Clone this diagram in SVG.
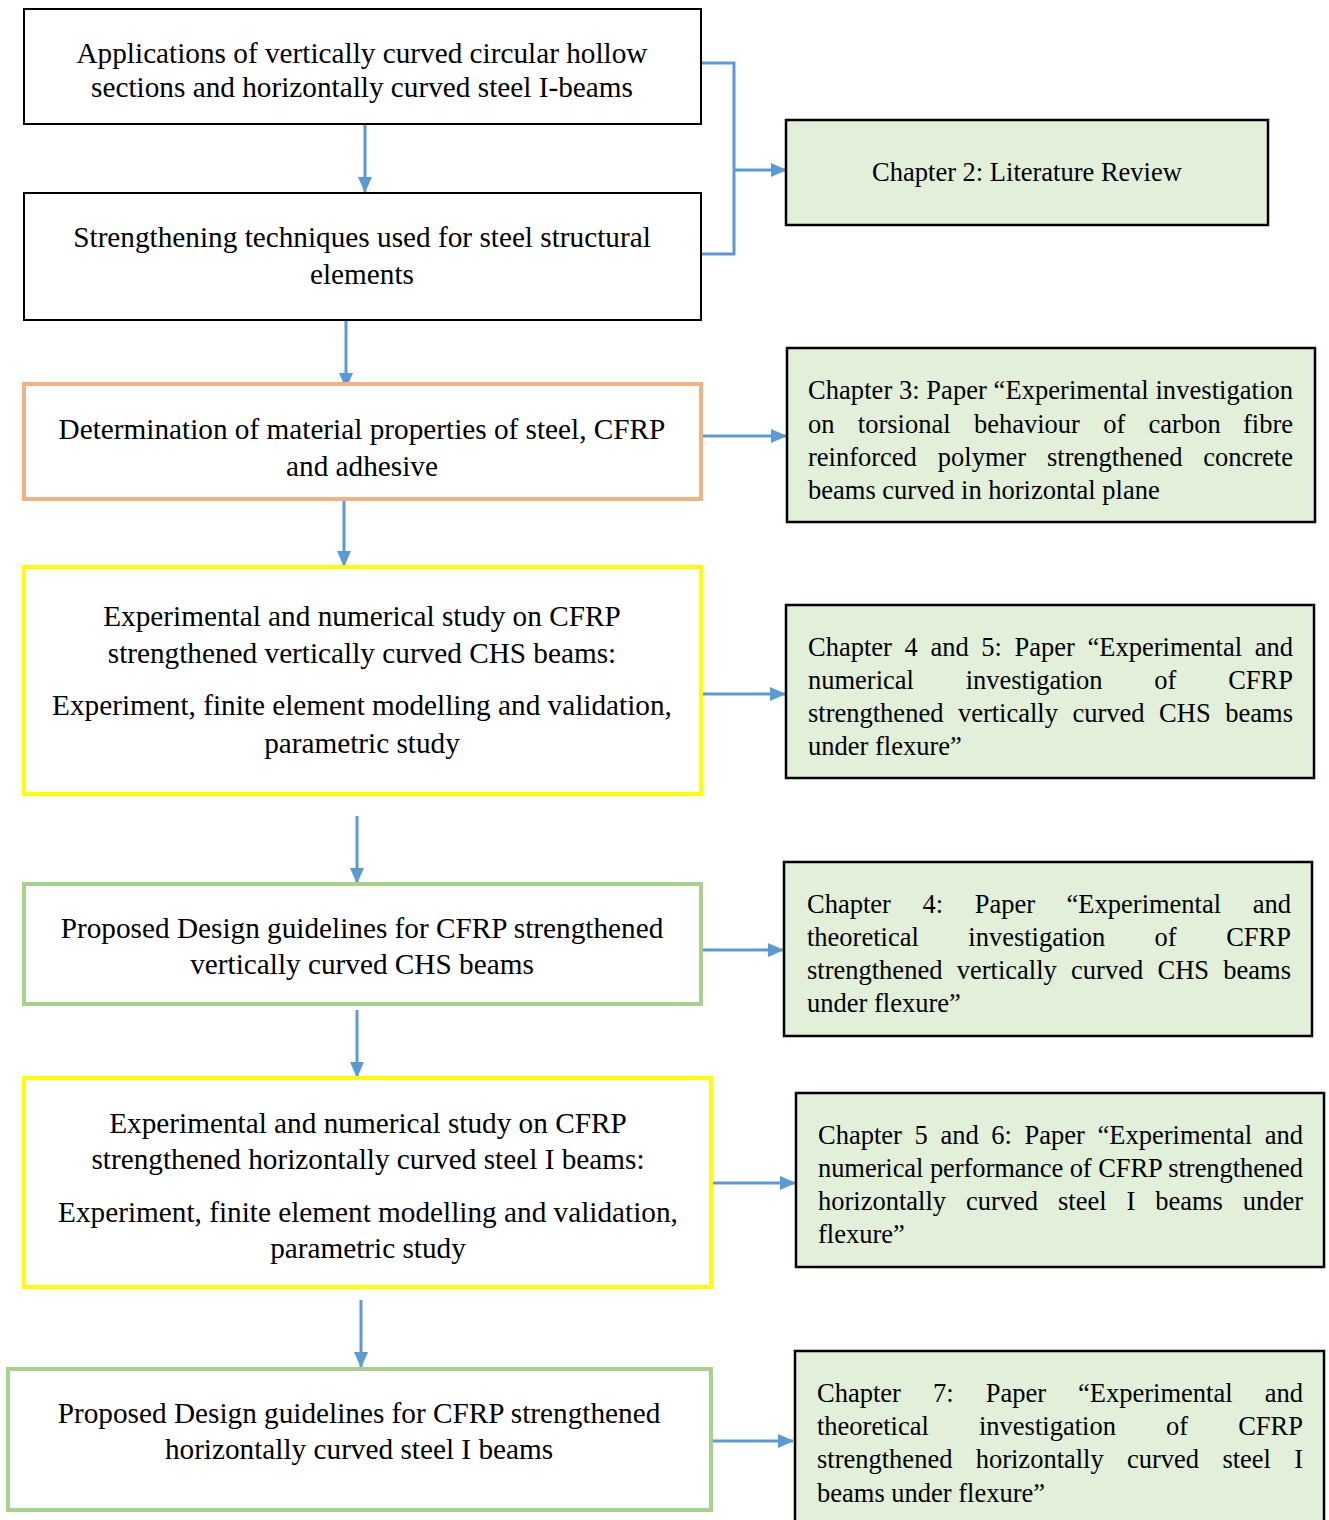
<svg xmlns="http://www.w3.org/2000/svg" width="1329" height="1520" viewBox="0 0 1329 1520">
<style>
text{font-family:"Liberation Serif","Times New Roman",serif;fill:#000}
.m{font-size:29.25px;text-anchor:middle}
.c{font-size:26.5px}
.e{text-anchor:end}
.bk{fill:#fff;stroke:#000;stroke-width:2}
.or{fill:#fff;stroke:#f4b183;stroke-width:4}
.ye{fill:#fff;stroke:#ffff00;stroke-width:4}
.gr{fill:#fff;stroke:#a9d18e;stroke-width:4}
.ch{fill:#e2efd9;stroke:#000;stroke-width:2.5}
.cn{fill:none;stroke:#5b9bd5;stroke-width:3}
</style>
<defs>
<marker id="ah" markerUnits="userSpaceOnUse" markerWidth="16" markerHeight="14" refX="15" refY="7" orient="auto">
<path d="M0,0 L16,7 L0,14 Z" fill="#5b9bd5"/>
</marker>
</defs>
<rect width="1329" height="1520" fill="#fff"/>
<g id="connectors">
<line class="cn" x1="365" y1="124" x2="365" y2="192" marker-end="url(#ah)"/>
<polyline class="cn" points="701,63 734,63 734,254 701,254"/>
<line class="cn" x1="734" y1="170" x2="786" y2="170" marker-end="url(#ah)"/>
<line class="cn" x1="346" y1="320" x2="346" y2="388" marker-end="url(#ah)"/>
<line class="cn" x1="701" y1="436" x2="786" y2="436" marker-end="url(#ah)"/>
<line class="cn" x1="344" y1="499" x2="344" y2="566" marker-end="url(#ah)"/>
<line class="cn" x1="701" y1="694" x2="785" y2="694" marker-end="url(#ah)"/>
<line class="cn" x1="357" y1="816" x2="357" y2="883" marker-end="url(#ah)"/>
<line class="cn" x1="699" y1="950" x2="783" y2="950" marker-end="url(#ah)"/>
<line class="cn" x1="357" y1="1010" x2="357" y2="1077" marker-end="url(#ah)"/>
<line class="cn" x1="711" y1="1183" x2="795" y2="1183" marker-end="url(#ah)"/>
<line class="cn" x1="361" y1="1300" x2="361" y2="1367" marker-end="url(#ah)"/>
<line class="cn" x1="711" y1="1441" x2="793" y2="1441" marker-end="url(#ah)"/>
</g>
<g id="n1">
<rect class="bk" x="24" y="9" width="677" height="115"/>
<text class="m" x="362" y="63">Applications of vertically curved circular hollow</text>
<text class="m" x="362" y="97">sections and horizontally curved steel I-beams</text>
</g>
<g id="n2">
<rect class="bk" x="24" y="193" width="677" height="127"/>
<text class="m" x="362" y="247">Strengthening techniques used for steel structural</text>
<text class="m" x="362" y="284">elements</text>
</g>
<g id="n3">
<rect class="or" x="24" y="384" width="677" height="115"/>
<text class="m" x="362" y="439">Determination of material properties of steel, CFRP</text>
<text class="m" x="362" y="476">and adhesive</text>
</g>
<g id="n4">
<rect class="ye" x="24" y="567" width="677" height="227"/>
<text class="m" x="362" y="626">Experimental and numerical study on CFRP</text>
<text class="m" x="362" y="663">strengthened vertically curved CHS beams:</text>
<text class="m" x="362" y="715">Experiment, finite element modelling and validation,</text>
<text class="m" x="362" y="753">parametric study</text>
</g>
<g id="n5">
<rect class="gr" x="24" y="884" width="677" height="120"/>
<text class="m" x="362" y="938">Proposed Design guidelines for CFRP strengthened</text>
<text class="m" x="362" y="974">vertically curved CHS beams</text>
</g>
<g id="n6">
<rect class="ye" x="24" y="1078" width="687" height="209"/>
<text class="m" x="368" y="1133">Experimental and numerical study on CFRP</text>
<text class="m" x="368" y="1169">strengthened horizontally curved steel I beams:</text>
<text class="m" x="368" y="1222">Experiment, finite element modelling and validation,</text>
<text class="m" x="368" y="1258">parametric study</text>
</g>
<g id="n7">
<rect class="gr" x="8" y="1369" width="703" height="141"/>
<text class="m" x="359" y="1423">Proposed Design guidelines for CFRP strengthened</text>
<text class="m" x="359" y="1459">horizontally curved steel I beams</text>
</g>
<g id="c2">
<rect class="ch" x="786" y="120" width="482" height="105"/>
<text class="c" x="1027" y="181" text-anchor="middle">Chapter 2: Literature Review</text>
</g>
<g id="c3">
<rect class="ch" x="787" y="348" width="528" height="174"/>
<text class="c" x="808" y="399" textLength="485" lengthAdjust="spacing">Chapter 3: Paper “Experimental investigation</text>
<text class="c" y="433"><tspan x="808">on</tspan><tspan x="857.8">torsional</tspan><tspan x="973.9">behaviour</tspan><tspan x="1103.2">of</tspan><tspan x="1148.6">carbon</tspan></text>
<text class="c e" x="1293" y="433">fibre</text>
<text class="c" y="466"><tspan x="808">reinforced</tspan><tspan x="937.8">polymer</tspan><tspan x="1047">strengthened</tspan></text>
<text class="c e" x="1293" y="466">concrete</text>
<text class="c" x="808" y="499">beams curved in horizontal plane</text>
</g>
<g id="c45">
<rect class="ch" x="786" y="605" width="528" height="173"/>
<text class="c" y="656"><tspan x="808">Chapter</tspan><tspan x="904.5">4</tspan><tspan x="930.4">and</tspan><tspan x="981.3">5:</tspan><tspan x="1014.5">Paper</tspan><tspan x="1087.5">“Experimental</tspan></text>
<text class="c e" x="1293" y="656">and</text>
<text class="c" y="689"><tspan x="808">numerical</tspan><tspan x="965.7">investigation</tspan><tspan x="1154.3">of</tspan></text>
<text class="c e" x="1293" y="689">CFRP</text>
<text class="c" y="722"><tspan x="808">strengthened</tspan><tspan x="957.9">vertically</tspan><tspan x="1072.5">curved</tspan><tspan x="1159.1">CHS</tspan></text>
<text class="c e" x="1293" y="722">beams</text>
<text class="c" x="808" y="755">under flexure”</text>
</g>
<g id="c4">
<rect class="ch" x="784" y="862" width="528" height="174"/>
<text class="c" y="913"><tspan x="807">Chapter</tspan><tspan x="922.5">4:</tspan><tspan x="974.7">Paper</tspan><tspan x="1066.6">“Experimental</tspan></text>
<text class="c e" x="1291" y="913">and</text>
<text class="c" y="946"><tspan x="807">theoretical</tspan><tspan x="968.3">investigation</tspan><tspan x="1154.6">of</tspan></text>
<text class="c e" x="1291" y="946">CFRP</text>
<text class="c" y="979"><tspan x="807">strengthened</tspan><tspan x="956.7">vertically</tspan><tspan x="1071.1">curved</tspan><tspan x="1157.5">CHS</tspan></text>
<text class="c e" x="1291" y="979">beams</text>
<text class="c" x="807" y="1012">under flexure”</text>
</g>
<g id="c56">
<rect class="ch" x="796" y="1093" width="528" height="174"/>
<text class="c" y="1144"><tspan x="818">Chapter</tspan><tspan x="914.5">5</tspan><tspan x="940.4">and</tspan><tspan x="991.3">6:</tspan><tspan x="1024.5">Paper</tspan><tspan x="1097.5">“Experimental</tspan></text>
<text class="c e" x="1303" y="1144">and</text>
<text class="c" x="818" y="1177" textLength="485" lengthAdjust="spacing">numerical performance of CFRP strengthened</text>
<text class="c" y="1210"><tspan x="818">horizontally</tspan><tspan x="966">curved</tspan><tspan x="1058">steel</tspan><tspan x="1126.5">I</tspan><tspan x="1155.2">beams</tspan></text>
<text class="c e" x="1303" y="1210">under</text>
<text class="c" x="818" y="1243">flexure”</text>
</g>
<g id="c7">
<rect class="ch" x="795" y="1351" width="529" height="180"/>
<text class="c" y="1402"><tspan x="817">Chapter</tspan><tspan x="933">7:</tspan><tspan x="985.7">Paper</tspan><tspan x="1078">“Experimental</tspan></text>
<text class="c e" x="1303" y="1402">and</text>
<text class="c" y="1435"><tspan x="817">theoretical</tspan><tspan x="979">investigation</tspan><tspan x="1166">of</tspan></text>
<text class="c e" x="1303" y="1435">CFRP</text>
<text class="c" y="1468"><tspan x="817">strengthened</tspan><tspan x="975.7">horizontally</tspan><tspan x="1127">curved</tspan><tspan x="1222.4">steel</tspan></text>
<text class="c e" x="1303" y="1468">I</text>
<text class="c" x="817" y="1502">beams under flexure”</text>
</g>
</svg>
